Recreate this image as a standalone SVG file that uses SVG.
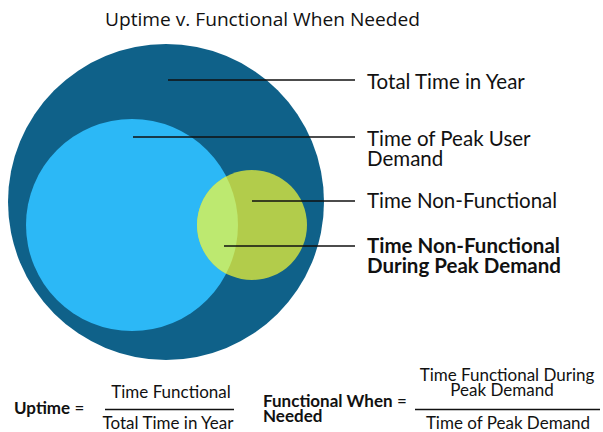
<svg xmlns="http://www.w3.org/2000/svg" width="603" height="432" viewBox="0 0 603 432">
<style>
text{font-family:Lato,"Liberation Sans",sans-serif;fill:#111;}
.lbl{font-size:20.5px;}
.b{font-weight:bold;}
.f{font-size:17px;}
.ln{stroke:#111;stroke-width:1.6;fill:none;}
</style>
<defs>
<clipPath id="cpLight"><circle cx="132" cy="225" r="106"/></clipPath>
</defs>
<text x="105" y="26" style="font-family:'Open Sans','Liberation Sans',sans-serif;font-size:18px" textLength="315" lengthAdjust="spacingAndGlyphs">Uptime v. Functional When Needed</text>
<g id="total"><circle cx="166" cy="202" r="158" fill="#0f6189"/></g>
<g id="peak"><circle cx="132" cy="225" r="106" fill="#2cb8f6"/></g>
<g id="nonfunc"><circle cx="252" cy="225" r="55" fill="#b2cc4b"/></g>
<g id="nonfuncpeak"><circle cx="252" cy="225" r="55" fill="#bde970" clip-path="url(#cpLight)"/></g>
<g id="connectors">
<line class="ln" x1="168" y1="80" x2="355" y2="80"/>
<line class="ln" x1="133" y1="137" x2="355" y2="137"/>
<line class="ln" x1="252" y1="201" x2="355" y2="201"/>
<line class="ln" x1="224" y1="246" x2="355" y2="246"/>
</g>
<g id="labels">
<text class="lbl" x="367" y="89">Total Time in Year</text>
<text class="lbl" x="367" y="146">Time of Peak User</text>
<text class="lbl" x="367" y="166">Demand</text>
<text class="lbl" x="367" y="208">Time Non-Functional</text>
<text class="lbl b" x="367" y="253">Time Non-Functional</text>
<text class="lbl b" x="367" y="273">During Peak Demand</text>
</g>
<g id="formula-uptime">
<text class="f" x="14" y="414"><tspan class="b">Uptime</tspan> =</text>
<line class="ln" x1="105" y1="409.5" x2="234" y2="409.5"/>
<text class="f" x="171" y="398" text-anchor="middle">Time Functional</text>
<text class="f" x="168" y="429" text-anchor="middle">Total Time in Year</text>
</g>
<g id="formula-fwn">
<text class="f" x="263" y="407"><tspan class="b">Functional When</tspan> =</text>
<text class="f b" x="263" y="422">Needed</text>
<line class="ln" x1="415" y1="409.5" x2="600" y2="409.5"/>
<text class="f" x="507" y="381" text-anchor="middle">Time Functional During</text>
<text class="f" x="502" y="396" text-anchor="middle">Peak Demand</text>
<text class="f" x="508" y="429" text-anchor="middle">Time of Peak Demand</text>
</g>
</svg>
